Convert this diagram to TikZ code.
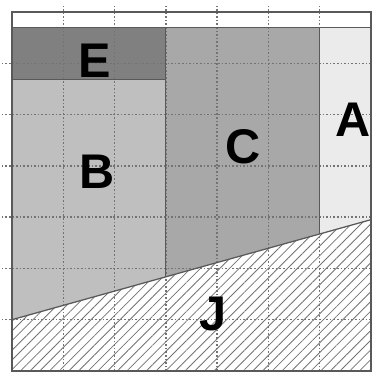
\documentclass[tikz,border=0pt]{standalone}
\usepackage{fontspec}
\setmainfont{Liberation Sans}
\usetikzlibrary{patterns.meta}

\begin{document}
\begin{tikzpicture}[
        region/.style={draw=black!65, line width=0.7pt},
        gridline/.style={draw=black!55, line width=0.8pt, dash pattern=on 0.9pt off 1.1pt},
        letter/.style={font=\fontsize{27}{27}\selectfont\bfseries, inner sep=0pt}
    ]
    \useasboundingbox (-0.234,-0.02) rectangle (7.04,7.234);
    % coordinates of the sloping edge
    \coordinate (sl) at (0,1);
    \coordinate (s3) at (3,1.836);
    \coordinate (s6) at (6,2.671);
    \coordinate (sr) at (7,2.95);

    % filled regions
    \fill[black!25] (sl) -- (s3) -- (3,5.68) -- (0,5.68) -- cycle;
    \fill[black!50] (0,5.68) rectangle (3,6.7);
    \fill[black!34] (s3) -- (s6) -- (6,6.7) -- (3,6.7) -- cycle;
    \fill[black!8] (s6) -- (sr) -- (7,6.7) -- (6,6.7) -- cycle;
    \fill[white] (0,0) -- (sl) -- (sr) -- (7,0) -- cycle;
    \fill[pattern={Lines[angle=45, distance=3.8pt, line width=0.45pt]}, pattern color=black!55]
        (0,0) -- (sl) -- (sr) -- (7,0) -- cycle;

    % dotted grid
    \foreach \i in {1,...,6} {
        \draw[gridline] (\i,0) -- (\i,7.12);
        \draw[gridline] (-0.2,\i) -- (7,\i);
    }

    % outlines
    \draw[region] (0,6.7) -- (7,6.7);
    \draw[region] (0,5.68) -- (3,5.68);
    \draw[region] (3,6.7) -- (s3);
    \draw[region] (6,6.7) -- (s6);
    \draw[region] (sl) -- (sr);
    \draw[region, line width=0.9pt] (0,0) rectangle (7,7);

    % labels
    \node[letter] (E) at (1.62,6.04) {E};
    \node[letter] (B) at (1.66,3.88) {B};
    \node[letter] (C) at (4.51,4.37) {C};
    \node[letter] (A) at (6.65,4.89) {A};
    \node[letter] (J) at (3.92,1.11) {J};
\end{tikzpicture}
\end{document}
